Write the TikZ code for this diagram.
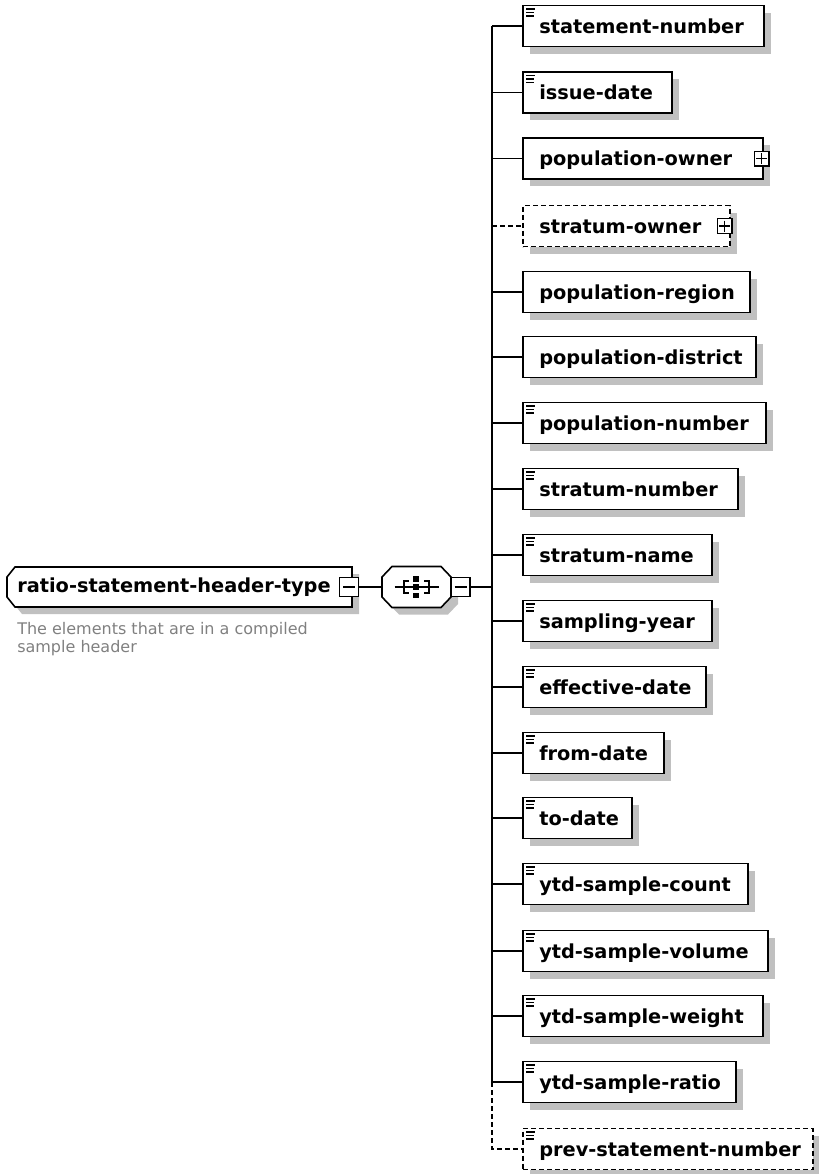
\documentclass[tikz,border=0pt]{standalone}
\usepackage{fontspec}
\setmainfont{DejaVu Sans}
\usetikzlibrary{shadows,calc}
\definecolor{shade}{RGB}{192,192,192}
\definecolor{desc}{RGB}{128,128,128}
\tikzset{
  elembox/.style={rectangle, draw=black, fill=white, line width=1.2pt, inner sep=0pt,
    minimum height=30.75pt, anchor=west,
    drop shadow={shadow xshift=5.25pt, shadow yshift=-5.25pt, fill=shade, opacity=1}},
  optbox/.style={elembox, dash pattern=on 3.75pt off 2.25pt},
  etext/.style={anchor=base west, inner sep=0pt, font=\fontsize{14.5pt}{17pt}\selectfont\bfseries},
  conn/.style={line width=1.2pt},
  optconn/.style={line width=1.2pt, dash pattern=on 3.75pt off 2.25pt},
  icon/.style={line width=1.1pt},
  togglebox/.style={rectangle, draw=black, fill=white, line width=1pt, inner sep=0pt, minimum size=#1},
  sign/.style={line width=1pt},
  outline/.style={draw=black, fill=white, line width=1.2pt},
  shadowfill/.style={fill=shade},
  desctext/.style={anchor=north west, inner sep=0pt, align=left, text=desc,
    font=\fontsize{12pt}{13.5pt}\selectfont},
  hidden/.style={inner sep=0pt, draw=none},
}
\newcommand{\elem}[5]{%
  \node[#4, minimum width=#3*0.75pt] (e#1) at (522,#2) {};
  \node[etext] (t#1) at (539,#2+7) {#5};
  \coordinate (j#1) at (492,#2);}
\newcommand{\docicon}[1]{%
  \draw[icon] ($(e#1.north west)+(4,4.5)$) -- ++(9,0)
              ($(e#1.north west)+(4,7.8)$) -- ++(8,0)
              ($(e#1.north west)+(4,11.1)$) -- ++(8,0);}
\newcommand{\plusbox}[3]{% id, node, xoffset
  \node[togglebox=11pt] (#1) at ($(#2.east)+(#3,0)$) {};
  \draw[sign] ($(#1.center)+(-5.5,0)$) -- ++(11,0) ($(#1.center)+(0,-5.5)$) -- ++(0,11);}
\begin{document}
\begin{tikzpicture}[x=0.75pt,y=-0.75pt]
\useasboundingbox (0,0) rectangle (818,1174);

% type node
\fill[shadowfill] (14,584) -- (22,574) -- (359,574) -- (359,614) -- (22,614) -- (14,604) -- cycle;
\draw[outline] (7,577) -- (15,567) -- (352,567) -- (352,607) -- (15,607) -- (7,597) -- cycle;
\node[hidden, minimum width=345*0.75pt, minimum height=40*0.75pt] (type) at (179.5,587) {};
\node[etext] (typetext) at (17,592.5) {ratio-statement-header-type};
\node[togglebox=14pt] (tmin) at (349,587) {};
\draw[sign] ($(tmin.center)+(-6,0)$) -- ++(12,0);
\node[desctext] (doc) at (17,622) {The elements that are in a compiled\\sample header};

% sequence compositor
\node[hidden, minimum width=69*0.75pt, minimum height=41*0.75pt] (seq) at (416.5,587) {};
\fill[shadowfill] (389,584) -- (399,573.5) -- (448,573.5) -- (458,584) -- (458,604) -- (448,614.5) -- (399,614.5) -- (389,604) -- cycle;
\draw[outline] (382,577) -- (392,566.5) -- (441,566.5) -- (451,577) -- (451,597) -- (441,607.5) -- (392,607.5) -- (382,597) -- cycle;
\begin{scope}[shift={(seq.center)}]
  \draw[line width=1.2pt] (-22,0) -- (22,0);
  \draw[line width=1.2pt] (-7.5,-6) -- (-12.5,-6) -- (-12.5,6) -- (-7.5,6);
  \draw[line width=1.2pt] (7.5,-6) -- (12.5,-6) -- (12.5,6) -- (7.5,6);
  \fill (-3.5,-11) rectangle (2.5,-5.5);
  \fill (-3.5,-2.75) rectangle (2.5,2.75);
  \fill (-3.5,5.5) rectangle (2.5,11);
\end{scope}
\node[togglebox=14pt] (smin) at (460.5,587) {};
\draw[sign] ($(smin.center)+(-6,0)$) -- ++(12,0);
\coordinate (jc) at (492,587);
\draw[conn] (tmin.east) -- (seq.west);
\draw[conn] (smin.east) -- (jc);

% elements
\elem{1}{26}{241}{elembox}{statement-number}
\elem{2}{92.5}{149}{elembox}{issue-date}
\elem{3}{158.5}{240}{elembox}{population-owner}
\elem{4}{226}{207}{optbox}{stratum-owner}
\elem{5}{292}{227}{elembox}{population-region}
\elem{6}{357}{233}{elembox}{population-district}
\elem{7}{423}{243}{elembox}{population-number}
\elem{8}{489}{215}{elembox}{stratum-number}
\elem{9}{555}{189}{elembox}{stratum-name}
\elem{10}{621}{189}{elembox}{sampling-year}
\elem{11}{687}{183}{elembox}{effective-date}
\elem{12}{753}{141}{elembox}{from-date}
\elem{13}{818}{109}{elembox}{to-date}
\elem{14}{884}{225}{elembox}{ytd-sample-count}
\elem{15}{951}{245}{elembox}{ytd-sample-volume}
\elem{16}{1016}{240}{elembox}{ytd-sample-weight}
\elem{17}{1082}{213}{elembox}{ytd-sample-ratio}
\elem{18}{1149}{290}{optbox}{prev-statement-number}

\foreach \i in {1,2,7,8,9,10,11,12,13,14,15,16,17,18} {\docicon{\i}}
\plusbox{p3}{e3}{-2}
\plusbox{p4}{e4}{-6}

% trunk and connectors
\draw[conn] (j1) -- (j17);
\draw[optconn] (j17) -- (j18) -- (e18.west);
\foreach \i in {1,2,3,5,6,7,8,9,10,11,12,13,14,15,16,17} {\draw[conn] (j\i) -- (e\i.west);}
\draw[optconn] (j4) -- (e4.west);
\end{tikzpicture}
\end{document}
